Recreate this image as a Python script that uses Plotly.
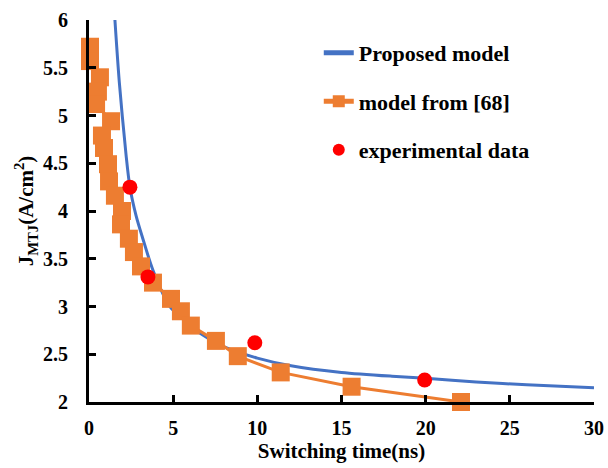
import plotly.graph_objects as go

# Proposed model (blue curve)
prop_t = [1.54, 1.8, 2.2, 2.43, 2.8, 3.2, 3.8, 4.8, 5.5, 6.6, 8, 10, 12, 15, 18, 20, 23, 26, 30]
prop_j = [6.0, 5.35, 4.59, 4.25, 3.95, 3.71, 3.38, 3.0, 2.88, 2.72, 2.58, 2.46, 2.38, 2.31, 2.27, 2.25, 2.21, 2.18, 2.15]

# model from [68] (orange squares)
ref_t = [0.06, 0.06, 0.65, 0.53, 0.42, 1.31, 0.77, 0.89, 1.13, 1.19, 1.54, 1.96, 1.9, 2.37, 2.67, 3.09,
         3.8, 4.87, 5.46, 6.05, 7.54, 8.84, 11.39, 15.6, 22.1]
ref_j = [5.72, 5.57, 5.40, 5.25, 5.12, 4.94, 4.79, 4.66, 4.49, 4.31, 4.16, 4.0, 3.86, 3.71, 3.57, 3.42,
         3.25, 3.08, 2.95, 2.80, 2.64, 2.48, 2.31, 2.16, 2.0]

# experimental data (red dots)
exp_t = [2.43, 3.5, 9.85, 19.94]
exp_j = [4.25, 3.31, 2.62, 2.23]

x_ticks = [0, 5, 10, 15, 20, 25, 30]
y_ticks = [2, 2.5, 3, 3.5, 4, 4.5, 5, 5.5, 6]
y_tick_text = ["2", "2.5", "3", "3.5", "4", "4.5", "5", "5.5", "6"]

FONT = "Liberation Serif"
BLUE = "#4472C4"
ORANGE = "#ED7D31"
RED = "#FF0000"

fig = go.Figure()
fig.add_trace(go.Scatter(
    x=prop_t, y=prop_j, mode="lines", name="<b>Proposed model</b>",
    line=dict(color=BLUE, width=3, shape="spline", smoothing=0.8),
    legendgroup="a"))
fig.add_trace(go.Scatter(
    x=ref_t, y=ref_j, mode="lines+markers", name="<b>model from [68]</b>",
    line=dict(color=ORANGE, width=3),
    marker=dict(symbol="square", size=18, color=ORANGE),
    cliponaxis=False, legendgroup="b"))
fig.add_trace(go.Scatter(
    x=exp_t, y=exp_j, mode="markers", name="<b>experimental data</b>",
    marker=dict(symbol="circle", size=15, color=RED),
    cliponaxis=False, legendgroup="c"))

fig.update_layout(
    width=608, height=468,
    margin=dict(l=89, r=14, t=20, b=66),
    paper_bgcolor="white", plot_bgcolor="white",
    font=dict(family=FONT, size=22, color="black"),
    showlegend=True,
    legend=dict(x=0.455, y=0.969, xanchor="left", yanchor="top",
                bgcolor="rgba(0,0,0,0)", tracegroupgap=17,
                itemsizing="constant",
                font=dict(family=FONT, size=22, color="black")),
    xaxis=dict(
        range=[0, 30], tickvals=x_ticks, ticktext=[f"<b>{v}</b>" for v in x_ticks],
        showline=True, linecolor="black", linewidth=3,
        ticks="inside", ticklen=7, tickwidth=2.5, tickcolor="black",
        showgrid=False, zeroline=False, ticklabelstandoff=6,
        tickfont=dict(family=FONT, size=20, color="black"),
        title=dict(text="<b>Switching time(ns)</b>", standoff=0,
                   font=dict(family=FONT, size=21, color="black")),
        automargin=False),
    yaxis=dict(
        range=[2, 6], tickvals=y_ticks, ticktext=[f"<b>{t}</b>" for t in y_tick_text],
        showline=True, linecolor="black", linewidth=3,
        ticks="inside", ticklen=7, tickwidth=2.5, tickcolor="black",
        showgrid=False, zeroline=False, ticklabelstandoff=14,
        tickfont=dict(family=FONT, size=20, color="black"),
        title=dict(text="<b>J<sub>MTJ</sub>(A/cm<sup>2</sup>)</b>", standoff=4,
                   font=dict(family=FONT, size=21, color="black")),
        automargin=False),
)

fig.write_html(
    "out.html",
    config={"displayModeBar": False},
    post_script="document.body.style.margin='0';document.body.style.overflow='hidden';",
)
